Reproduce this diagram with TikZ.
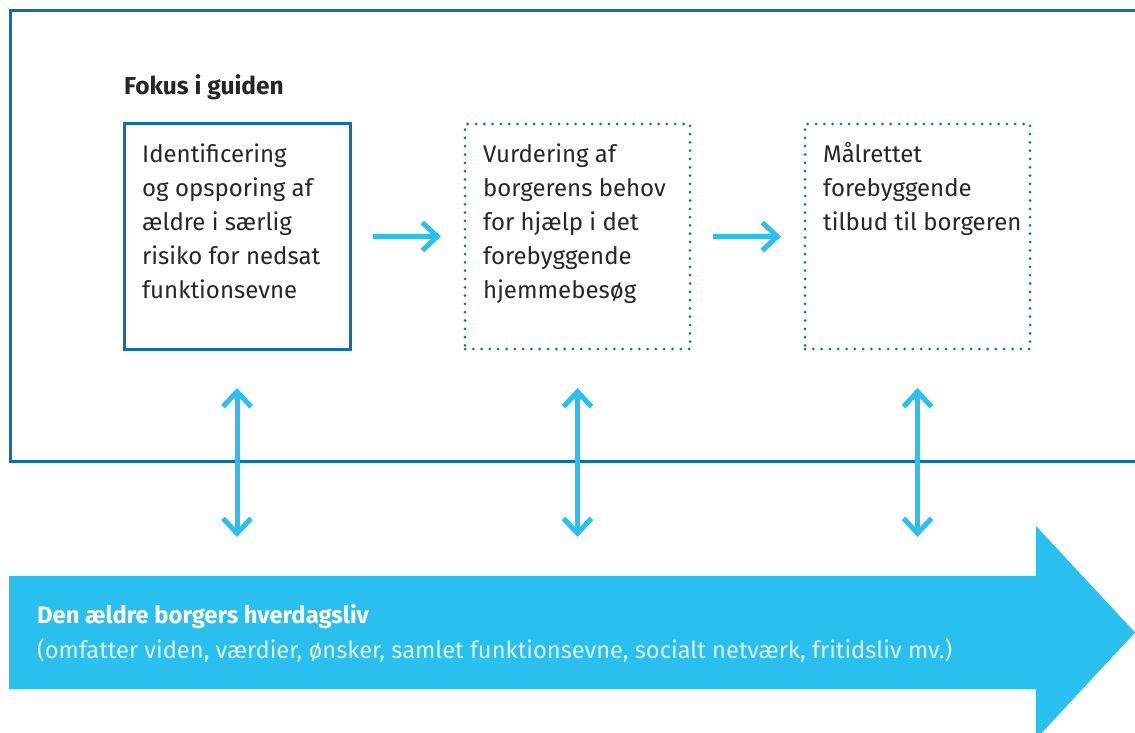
\documentclass[tikz,border=0pt]{standalone}
\usepackage{fontspec}
\setmainfont{Fira Sans}
\usetikzlibrary{arrows.meta}
\definecolor{frameblue}{HTML}{0A6FB6}
\definecolor{cyanarrow}{HTML}{29BFEF}
\definecolor{txt}{HTML}{262626}
\definecolor{softwhite}{HTML}{DDF4FC}
\begin{document}
\begin{tikzpicture}[x=1pt,y=-1pt,
  solidbox/.style={draw=frameblue, line width=3pt, minimum width=226pt, minimum height=225pt, inner sep=0pt, outer sep=0pt, anchor=north west},
  dotbox/.style={draw=frameblue, line width=3pt, dash pattern=on 0pt off 8.3pt, line cap=round, minimum width=225pt, minimum height=225pt, inner sep=0pt, outer sep=0pt, anchor=north west},
  bodytext/.style={anchor=base west, align=left, font=\fontsize{24}{34}\selectfont, text=txt, inner sep=0pt},
  flowarrow/.style={draw=cyanarrow, line width=5pt, line join=miter, -{Straight Barb[length=15pt,width=28pt]}},
  twowayarrow/.style={draw=cyanarrow, line width=5pt, line join=miter, {Straight Barb[length=15pt,width=28pt]}-{Straight Barb[length=15pt,width=28pt]}}
]
\useasboundingbox (0,0) rectangle (1135,733);
% frame
\draw[frameblue, line width=3pt] (1140,11) -- (10,11) -- (10,461) -- (1140,461);
% title
\node[anchor=base west, inner sep=0pt, font=\bfseries\fontsize{24.5}{28}\selectfont, text=txt] (title) at (124,95) {Fokus i guiden};
% boxes
\node[solidbox] (b1) at (124,124) {};
\node[dotbox] (b2) at (465,124) {};
\node[dotbox] (b3) at (805,124) {};
% texts (anchor = baseline of last line)
\node[bodytext] (t1) at (142,298) {Identificering\\og opsporing af\\ældre i særlig\\risiko for nedsat\\funktionsevne};
\node[bodytext] (t2) at (483,298) {Vurdering af\\borgerens behov\\for hjælp i det\\forebyggende\\hjemmebesøg};
\node[bodytext] (t3) at (823,230) {Målrettet\\forebyggende\\tilbud til borgeren};
% horizontal arrows
\draw[flowarrow, shorten <=23pt, shorten >=24pt] (b1.east) -- (b2.west);
\draw[flowarrow, shorten <=23pt, shorten >=24pt] (b2.east) -- (b3.west);
% big arrow
\fill[cyanarrow] (9,576) -- (1036,576) -- (1036,526) -- (1135,632.5) -- (1036,739) -- (1036,689) -- (9,689) -- cycle;
\coordinate (bandtop) at (9,576);
\node[anchor=base west, inner sep=0pt, font=\bfseries\fontsize{23.8}{28}\selectfont, text=white] (h1) at (37,623) {Den ældre borgers hverdagsliv};
\node[anchor=base west, inner sep=0pt, font=\fontsize{23.7}{28}\selectfont, text=softwhite] (h2) at (37,658) {(omfatter viden, værdier, ønsker, samlet funktionsevne, socialt netværk, fritidsliv mv.)};
% vertical double arrows
\draw[twowayarrow, shorten <=39pt, shorten >=39pt] (b1.south) -- (b1.south |- bandtop);
\draw[twowayarrow, shorten <=39pt, shorten >=39pt] (b2.south) -- (b2.south |- bandtop);
\draw[twowayarrow, shorten <=39pt, shorten >=39pt] (b3.south) -- (b3.south |- bandtop);
\end{tikzpicture}
\end{document}
